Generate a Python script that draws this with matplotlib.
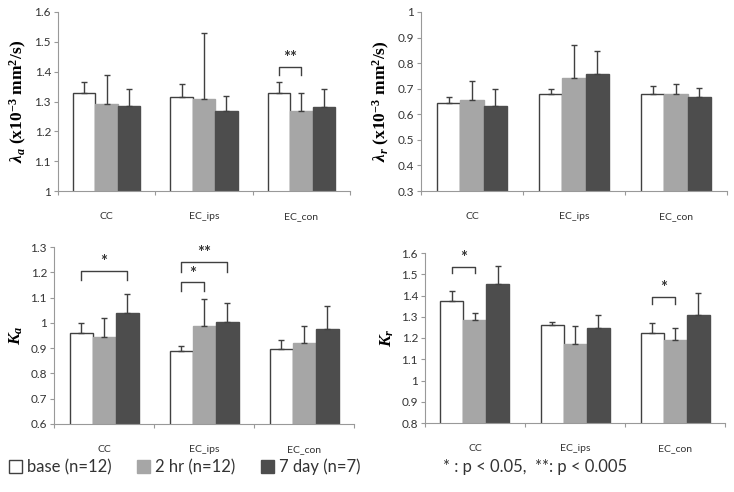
import numpy as np
import matplotlib.pyplot as plt

plt.rcParams['font.family'] = ['Lato', 'DejaVu Sans']
plt.rcParams['mathtext.fontset'] = 'custom'
plt.rcParams['mathtext.rm'] = 'Liberation Serif:bold'
plt.rcParams['mathtext.it'] = 'Liberation Serif:bold:italic'
plt.rcParams['mathtext.bf'] = 'Liberation Serif:bold'

categories = ['CC', 'EC_ips', 'EC_con']
groups = ['base (n=12)', '2 hr (n=12)', '7 day (n=7)']
colors = ['white', '#a6a6a6', '#4d4d4d']

# lambda_a
la_mean = [[1.330, 1.315, 1.330], [1.290, 1.310, 1.268], [1.285, 1.268, 1.283]]
la_err = [[0.035, 0.045, 0.035], [0.098, 0.220, 0.060], [0.057, 0.052, 0.060]]
# lambda_r
lr_mean = [[0.645, 0.680, 0.678], [0.655, 0.740, 0.678], [0.632, 0.757, 0.668]]
lr_err = [[0.022, 0.020, 0.033], [0.075, 0.130, 0.042], [0.068, 0.090, 0.035]]
# kappa_a
ka_mean = [[0.960, 0.888, 0.898], [0.945, 0.987, 0.922], [1.040, 1.002, 0.977]]
ka_err = [[0.040, 0.022, 0.035], [0.075, 0.107, 0.065], [0.075, 0.075, 0.090]]
# kappa_r
kr_mean = [[1.372, 1.262, 1.222], [1.285, 1.170, 1.190], [1.455, 1.245, 1.310]]
kr_err = [[0.050, 0.015, 0.050], [0.032, 0.087, 0.057], [0.085, 0.065, 0.100]]

# significance brackets: (category, group from, group to, top y, drop, label)
la_sig = [(2, 0, 1, 1.416, 0.026, '**')]
ka_sig = [(0, 0, 2, 1.205, 0.035, '*'), (1, 0, 1, 1.160, 0.033, '*'), (1, 0, 2, 1.240, 0.040, '**')]
kr_sig = [(0, 0, 1, 1.535, 0.031, '*'), (2, 0, 1, 1.394, 0.034, '*')]

W, H = 734, 492
fig = plt.figure(figsize=(W / 100, H / 100), dpi=100)


def px_axes(l, r, t, b):
    return fig.add_axes([l / W, 1 - b / H, (r - l) / W, (b - t) / H])


bw = 0.23
x = np.arange(len(categories))


def panel(ax, means, errs, ylim, ticks, ylabel, sigs=()):
    for g in range(3):
        pos = x + (g - 1) * bw
        ax.bar(pos, means[g], bw, color=colors[g], edgecolor='#404040' if g == 0 else colors[g],
               linewidth=1.0, zorder=2)
        ax.errorbar(pos, means[g], yerr=[np.zeros(3), errs[g]], fmt='none', ecolor='#404040',
                    elinewidth=1.0, capsize=2.5, capthick=1.0, zorder=3)
    ax.set_xlim(-0.5, 2.5)
    ax.set_ylim(*ylim)
    ax.set_yticks(ticks)
    ax.set_yticklabels(['1' if abs(t - 1) < 1e-9 else '%.1f' % t for t in ticks],
                       fontsize=8.5, color='#333333')
    ax.set_xticks([-0.5, 0.5, 1.5, 2.5])
    ax.set_xticklabels([])
    ax.set_xticks(x, minor=True)
    ax.set_xticklabels(categories, minor=True, fontsize=7.5, color='#333333')
    ax.tick_params(axis='x', which='minor', length=0, pad=15)
    ax.tick_params(axis='x', which='major', length=3, color='#999999')
    ax.tick_params(axis='y', length=3, color='#999999', pad=2)
    for s in ['top', 'right']:
        ax.spines[s].set_visible(False)
    for s in ['left', 'bottom']:
        ax.spines[s].set_color('#999999')
    ax.set_ylabel(ylabel, fontsize=12.5, fontweight='bold', family='Liberation Serif', labelpad=4)
    for c, g1, g2, top, drop, lab in sigs:
        x1 = c + (g1 - 1) * bw
        x2 = c + (g2 - 1) * bw
        ax.plot([x1, x1, x2, x2], [top - drop, top, top, top - drop], color='#404040', lw=1.0, zorder=4)
        ax.text((x1 + x2) / 2, top + (ylim[1] - ylim[0]) * 0.005, lab, ha='center', va='bottom',
                fontsize=12, fontweight='bold', color='#333333')


ax1 = px_axes(58, 350, 12, 191)
panel(ax1, la_mean, la_err, (1.0, 1.6), np.arange(1.0, 1.61, 0.1),
      r'$\lambda_a$ (x10$^{-3}$ mm$^2$/s)', la_sig)

ax2 = px_axes(421, 727, 12, 191)
panel(ax2, lr_mean, lr_err, (0.3, 1.0), np.arange(0.3, 1.01, 0.1),
      r'$\lambda_r$ (x10$^{-3}$ mm$^2$/s)')

ax3 = px_axes(54, 354, 247, 424)
panel(ax3, ka_mean, ka_err, (0.6, 1.3), np.arange(0.6, 1.31, 0.1), r'$K_a$', ka_sig)

ax4 = px_axes(425, 725, 253, 423)
panel(ax4, kr_mean, kr_err, (0.8, 1.6), np.arange(0.8, 1.61, 0.1), r'$K_r$', kr_sig)

handles = [plt.Rectangle((0, 0), 1, 1, facecolor=colors[g], edgecolor='#404040' if g == 0 else colors[g])
           for g in range(3)]
fig.legend(handles, groups, loc='center left', bbox_to_anchor=(-0.008, 1 - 467 / H), ncol=3,
           frameon=False, fontsize=12, handlelength=0.8, handleheight=0.8, handletextpad=0.3,
           columnspacing=1.5, labelcolor='#333333')
fig.text(443 / W, 1 - 467 / H, '* : p < 0.05,  **: p < 0.005', fontsize=12, color='#333333',
         ha='left', va='center')

fig.savefig('out.png', dpi=100)
